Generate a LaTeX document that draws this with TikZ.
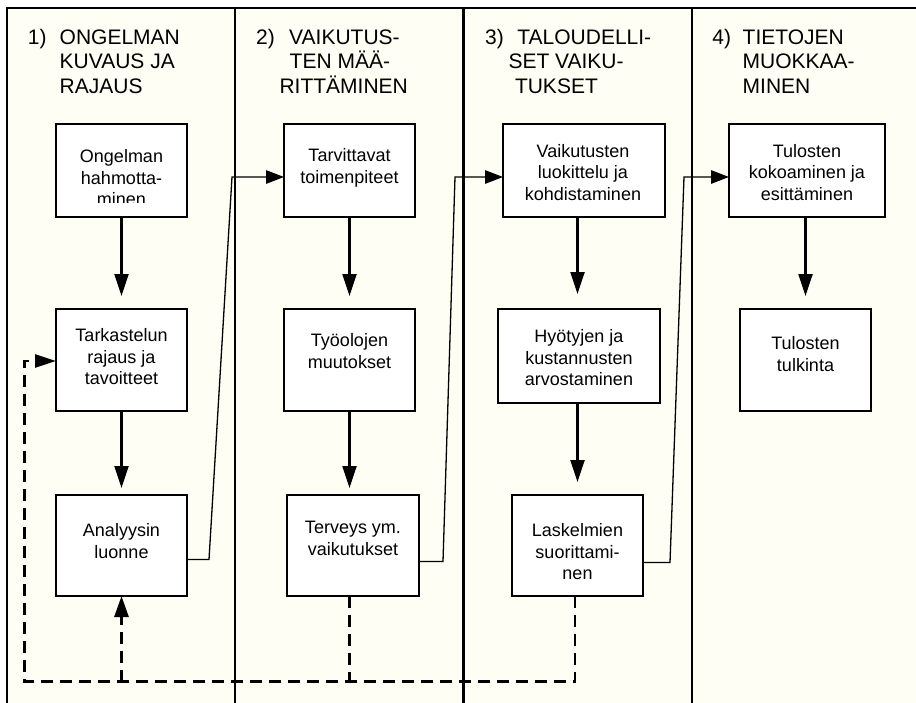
\documentclass[tikz,border=0pt]{standalone}
\usepackage{fontspec}
\setmainfont{Liberation Sans}
\usetikzlibrary{arrows.meta}
\definecolor{panel}{RGB}{254,254,244}

\begin{document}
\begin{tikzpicture}[x=1pt,y=-1pt,
  frame/.style={line width=2.4pt},
  box/.style={draw, fill=white, line width=2.4pt, inner sep=0pt, outer sep=0pt},
  boxtext/.style={anchor=north, inner sep=0pt, align=center,
    font=\fontsize{18}{21.7}\selectfont},
  headnum/.style={anchor=base west, inner sep=0pt,
    font=\fontsize{21}{24.5}\selectfont},
  headtext/.style={anchor=north west, inner sep=0pt, align=left,
    font=\fontsize{21}{24.5}\selectfont},
  flow/.style={line width=2.3pt, -{Triangle[length=22pt,width=14pt]}},
  link/.style={line width=1.3pt, -{Triangle[length=18pt,width=13.5pt]}},
  back/.style={line width=2.7pt, dash pattern=on 12pt off 7pt},
]
\useasboundingbox (0,0) rectangle (916,702);
\clip (0,0) rectangle (916,702);
\fill[white] (0,0) rectangle (916,702);
\fill[panel] (7,8) rectangle (930,720);

% column frame
\draw[frame] (7,720) -- (7,8) -- (930,8);
\draw[frame] (235,8) -- (235,720);
\draw[frame] (463.3,8) -- (463.3,720);
\draw[frame] (691.7,8) -- (691.7,720);

% column headings
\node[headnum] (n1) at (27.7,44.3) {1)};
\node[headtext] (h1) at (59.5,29.3) {ONGELMAN\\KUVAUS JA\\RAJAUS};
\node[headnum] (n2) at (256,44.3) {2)};
\node[headtext] (h2) at (279.3,29.3)
  {\hspace*{9.7pt}VAIKUTUS-\\\hspace*{10.2pt}TEN MÄÄ-\\RITTÄMINEN};
\node[headnum] (n3) at (485,44.3) {3)};
\node[headtext] (h3) at (508.3,29.3)
  {\hspace*{8.9pt}TALOUDELLI-\\SET VAIKU-\\\hspace*{6.5pt}TUKSET};
\node[headnum] (n4) at (712.2,44.3) {4)};
\node[headtext] (h4) at (742.5,29.3) {TIETOJEN\\MUOKKAA-\\MINEN};

% process boxes
\node[box, minimum width=131pt, minimum height=93pt]  (a) at (121.5,170.5) {};
\node[box, minimum width=131pt, minimum height=102pt] (b) at (121.5,360) {};
\node[box, minimum width=131pt, minimum height=101pt] (c) at (121.5,545.5) {};
\node[box, minimum width=131pt, minimum height=93pt]  (d) at (349.5,170.5) {};
\node[box, minimum width=131pt, minimum height=102pt] (e) at (349.5,360) {};
\node[box, minimum width=132pt, minimum height=101pt] (f) at (353,545.5) {};
\node[box, minimum width=162pt, minimum height=93pt]  (g) at (584,170.5) {};
\node[box, minimum width=162pt, minimum height=94pt]  (h) at (579,356) {};
\node[box, minimum width=131pt, minimum height=101pt] (i) at (577.5,545.5) {};
\node[box, minimum width=156pt, minimum height=93pt]  (j) at (807,170.5) {};
\node[box, minimum width=131pt, minimum height=102pt] (k) at (805.5,360) {};

% box labels (the first one runs past its text frame and is cut off)
\begin{scope}
  \clip (56,124) rectangle (187,202.3);
  \node[boxtext] (aT) at (121.5,149.3) {Ongelman\\hahmotta-\\minen};
\end{scope}
\node[boxtext] (bT) at (121.5,328.3) {Tarkastelun\\rajaus ja\\tavoitteet};
\node[boxtext] (cT) at (121.5,523.3) {Analyysin\\luonne};
\node[boxtext] (dT) at (349.5,148.3) {Tarvittavat\\toimenpiteet};
\node[boxtext] (eT) at (349.5,333.3) {Työolojen\\muutokset};
\node[boxtext] (fT) at (353,521) {Terveys ym.\\vaikutukset};
\node[boxtext] (gT) at (583,144) {Vaikutusten\\luokittelu ja\\kohdistaminen};
\node[boxtext] (hT) at (579,329.3) {Hyötyjen ja\\kustannusten\\arvostaminen};
\node[boxtext] (iT) at (577.5,523.3) {Laskelmien\\suorittami-\\nen};
\node[boxtext] (jT) at (807,144) {Tulosten\\kokoaminen ja\\esittäminen};
\node[boxtext] (kT) at (805.5,336.7) {Tulosten\\tulkinta};

% flow inside each column
\draw[flow, shorten >=13pt] (a.south) -- (b.north);
\draw[flow, shorten >=7pt] (b.south) -- (c.north);
\draw[flow, shorten >=13pt] (d.south) -- (e.north);
\draw[flow, shorten >=7pt] (e.south) -- (e.south |- f.north);
\draw[flow, shorten >=15pt] (g.south -| i.north) -- (h.north -| i.north);
\draw[flow, shorten >=13pt] (h.south -| i.north) -- (i.north);
\draw[flow, shorten >=13pt] (j.south -| k.north) -- (k.north);

% links from one column to the next
\draw[link] ([yshift=-14pt]c.east) -- ++(22pt,0pt)
  -- ([xshift=-52pt,yshift=-6.5pt]d.west) -- ([yshift=-6.5pt]d.west);
\draw[link] ([yshift=-16pt]f.east) -- ++(24pt,0pt)
  -- ([xshift=-48pt,yshift=-6.5pt]g.west) -- ([yshift=-6.5pt]g.west);
\draw[link] ([yshift=-17pt]i.east) -- ++(27pt,0pt)
  -- ([xshift=-45pt,yshift=-6.5pt]j.west) -- ([yshift=-6.5pt]j.west);

% feedback loop
\coordinate (fb) at (24.3,681.7);
\draw[back, -{Triangle[length=21pt,width=13pt]}]
  ([xshift=-2.5pt]i.south) |- (fb) |- ([yshift=-1pt]b.west);
\draw[back] (e.south |- f.south) -- (e.south |- fb);
\draw[back, -{Triangle[length=21pt,width=14pt]}] (c.south |- fb) -- (c.south);
\end{tikzpicture}
\end{document}
